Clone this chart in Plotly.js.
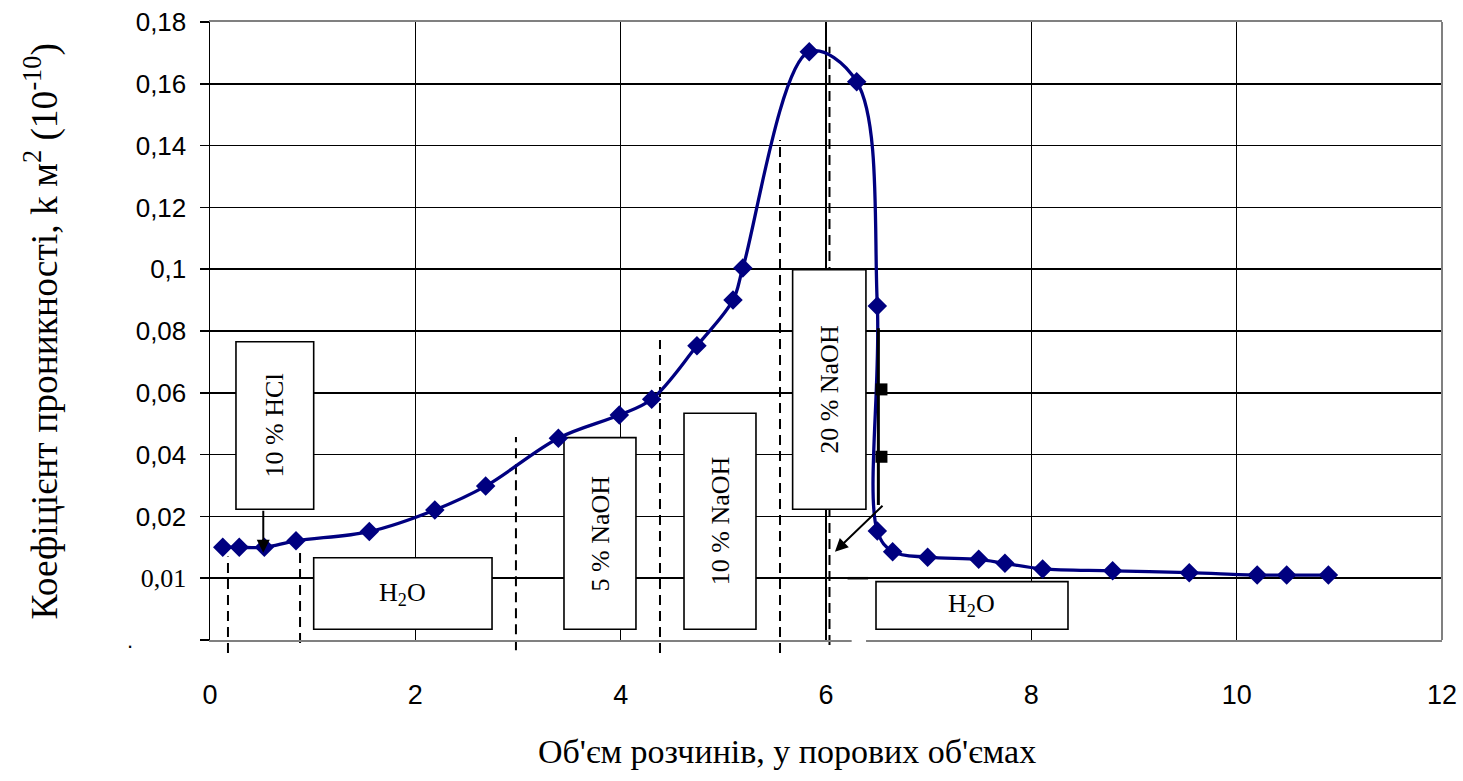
<!DOCTYPE html>
<html>
<head>
<meta charset="utf-8">
<script src="https://cdn.plot.ly/plotly-3.0.1.min.js"></script>
<style>html,body{margin:0;padding:0;background:#fff;}#chart{width:1463px;height:781px;}</style>
</head>
<body>
<div id="chart"></div>
<script>
// ---- data ----
const volume = [0.124, 0.285, 0.529, 0.838, 1.552, 2.19, 2.685, 3.393, 3.987, 4.302, 4.743, 5.094, 5.19, 5.837, 6.299, 6.5, 6.5, 6.649, 6.99, 7.487, 7.743, 8.11, 8.792, 9.538, 10.2, 10.487, 10.893];
const permeability = [0.0100, 0.0100, 0.0100, 0.0121, 0.0151, 0.0221, 0.0298, 0.0453, 0.0528, 0.0579, 0.0752, 0.0900, 0.1004, 0.1704, 0.1607, 0.0881, 0.0153, 0.0086, 0.0068, 0.0061, 0.0048, 0.0030, 0.0024, 0.0018, 0.0010, 0.0010, 0.0010];

const blackLineX = [6.51, 6.51];
const blackLineY = [0.0809, 0.0237];
const blackSquareX = [6.54, 6.54];
const blackSquareY = [0.0611, 0.0393];

const xTickVals = [0, 2, 4, 6, 8, 10, 12];
const xTickText = ['0', '2', '4', '6', '8', '10', '12'];
const yTickVals = [-0.02, 0, 0.02, 0.04, 0.06, 0.08, 0.1, 0.12, 0.14, 0.16, 0.18];
const yTickText = ['', '<span style="font-family:\'Liberation Serif\',\'Times New Roman\',serif">0,01</span>', '0,02', '0,04', '0,06', '0,08', '0,1', '0,12', '0,14', '0,16', '0,18'];

// dashed stage boundaries
const dashX = [0.175, 0.877, 2.98, 4.383, 5.552, 6.034];
const dashTop = [0.0070, 0.0098, 0.0457, 0.0771, 0.1418, 0.172];
const dashBottom = [-0.0242, -0.0210, -0.0233, -0.0242, -0.0242, -0.0216];

// labelled boxes
const boxLabels = ['10 % HCl', 'H<sub>2</sub>O', '5 % NaOH', '10 % NaOH', '20 % NaOH', 'H<sub>2</sub>O'];
const boxX0 = [0.253, 1.010, 3.448, 4.617, 5.675, 6.487];
const boxX1 = [1.010, 2.747, 4.149, 5.318, 6.389, 8.357];
const boxY0 = [0.0223, -0.0165, -0.0165, -0.0165, 0.0223, -0.0165];
const boxY1 = [0.0765, 0.0066, 0.0455, 0.0534, 0.0998, -0.0011];
const boxVertical = [true, false, true, true, true, false];

// arrows (head, tail)
const arrowHeadX = [0.519, 6.087];
const arrowHeadY = [0.0082, 0.0086];
const arrowTailX = [0.519, 6.565];
const arrowTailY = [0.0223, 0.0239];

const Y_MIN = -0.02, Y_MAX = 0.18;
const toPaperY = v => (v - Y_MIN) / (Y_MAX - Y_MIN);

const serif = "'Liberation Serif', 'Times New Roman', serif";
const sans = "'Liberation Sans', Arial, sans-serif";

const traces = [
  {
    x: volume, y: permeability, type: 'scatter', mode: 'lines+markers',
    line: {color: '#000080', width: 3.3, shape: 'spline', smoothing: 1},
    marker: {symbol: 'diamond', size: 15, color: '#000080'},
    hoverinfo: 'skip'
  },
  {
    x: blackLineX, y: blackLineY, type: 'scatter', mode: 'lines',
    line: {color: '#000000', width: 3}, hoverinfo: 'skip'
  },
  {
    x: blackSquareX, y: blackSquareY, type: 'scatter', mode: 'markers',
    marker: {symbol: 'square', size: 12, color: '#000000'}, hoverinfo: 'skip'
  }
];

const shapes = [];
const annotations = [];

dashX.forEach((x, i) => {
  shapes.push({
    type: 'line', xref: 'x', yref: 'paper', layer: 'between',
    x0: x, x1: x, y0: toPaperY(dashBottom[i]), y1: toPaperY(dashTop[i]),
    line: {color: '#000', width: 2, dash: '10px,6px'}
  });
});

boxLabels.forEach((t, i) => {
  shapes.push({
    type: 'rect', xref: 'x', yref: 'y', layer: 'between',
    x0: boxX0[i], x1: boxX1[i], y0: boxY0[i], y1: boxY1[i],
    fillcolor: '#ffffff', line: {color: '#000', width: 1.6}
  });
  annotations.push({
    xref: 'x', yref: 'y', x: (boxX0[i] + boxX1[i]) / 2, y: (boxY0[i] + boxY1[i]) / 2,
    text: t, showarrow: false, textangle: boxVertical[i] ? -90 : 0,
    xanchor: 'center', yanchor: 'middle',
    font: {family: serif, size: 26, color: '#000'}
  });
});

arrowHeadX.forEach((x, i) => {
  annotations.push({
    xref: 'x', yref: 'y', axref: 'x', ayref: 'y',
    x: x, y: arrowHeadY[i], ax: arrowTailX[i], ay: arrowTailY[i],
    text: '', showarrow: true, arrowhead: 2, arrowsize: 1.3, arrowwidth: 2, arrowcolor: '#000'
  });
});

// right border (grey) and small artefacts of the original
shapes.push({type: 'line', xref: 'paper', yref: 'paper', x0: 1, x1: 1, y0: 0, y1: 1, layer: 'above', line: {color: '#808080', width: 2}});
shapes.push({type: 'line', xref: 'x', yref: 'y', x0: 6.21, x1: 6.41, y0: 0, y1: 0, layer: 'above', line: {color: '#000', width: 2.5}});
shapes.push({type: 'line', xref: 'x', yref: 'paper', x0: 6.25, x1: 6.39, y0: 0, y1: 0, layer: 'above', line: {color: '#fff', width: 4}});

// axis titles
annotations.push({
  xref: 'paper', yref: 'paper', x: 0.468, y: -0.181, xanchor: 'center', yanchor: 'middle',
  text: "Об'єм розчинів, у порових об'ємах", showarrow: false,
  font: {family: serif, size: 34, color: '#000'}
});
annotations.push({
  xref: 'paper', yref: 'paper', x: -0.136, y: 0.5, xanchor: 'center', yanchor: 'middle',
  text: 'Коефіцієнт проникності, k м<sup>2</sup> (10<sup>-10</sup>)', showarrow: false, textangle: -90,
  font: {family: serif, size: 37.5, color: '#000'}
});
annotations.push({
  xref: 'paper', yref: 'paper', x: -0.065, y: 0, xanchor: 'center', yanchor: 'middle',
  text: '.', showarrow: false, font: {family: sans, size: 22, color: '#000'}
});

const layout = {
  width: 1463, height: 781,
  margin: {l: 210, r: 21, t: 22, b: 141},
  paper_bgcolor: '#fff', plot_bgcolor: '#fff',
  showlegend: false,
  xaxis: {
    range: [0, 12], tickmode: 'array', tickvals: xTickVals, ticktext: xTickText,
    showgrid: true, gridcolor: '#000', gridwidth: 1.5, zeroline: false,
    showline: true, linecolor: '#808080', linewidth: 2, mirror: true,
    ticks: '', ticklabelstandoff: 30,
    tickfont: {family: sans, size: 27, color: '#000'}
  },
  yaxis: {
    range: [Y_MIN, Y_MAX], tickmode: 'array', tickvals: yTickVals, ticktext: yTickText,
    showgrid: true, gridcolor: '#000', gridwidth: 1.5, zeroline: false,
    showline: true, linecolor: '#000', linewidth: 1.5,
    ticks: 'outside', ticklen: 9, tickwidth: 1.5, tickcolor: '#000', ticklabelstandoff: 8,
    tickfont: {family: sans, size: 26, color: '#000'}
  },
  shapes: shapes,
  annotations: annotations
};

Plotly.newPlot('chart', traces, layout, {displayModeBar: false, staticPlot: true});
</script>
</body>
</html>
